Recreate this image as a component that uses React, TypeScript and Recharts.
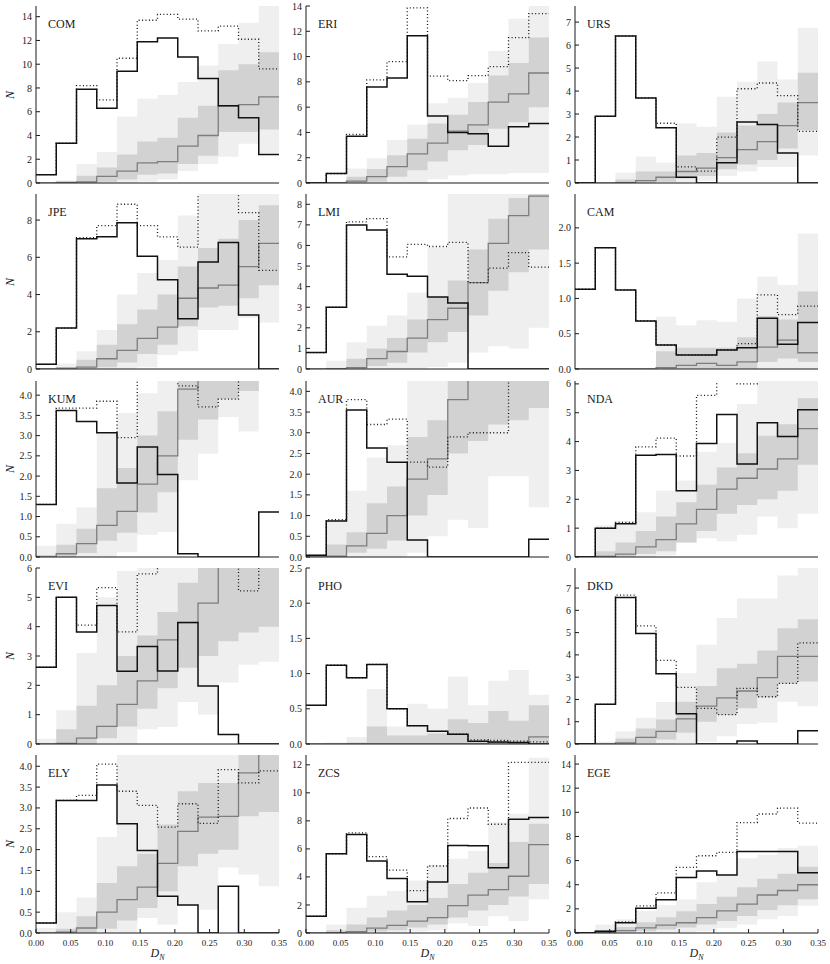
import React from "react";
import { ComposedChart, Area, Line, XAxis, YAxis } from "recharts";

// 12 histogram bins between D_N = 0 and 0.35
const NBINS = 12;
const X_MAX = 0.35;
const xTicks = [0, 0.05, 0.1, 0.15, 0.2, 0.25, 0.3, 0.35];

const regions = [
  "COM", "ERI", "URS",
  "JPE", "LMI", "CAM",
  "KUM", "AUR", "NDA",
  "EVI", "PHO", "DKD",
  "ELY", "ZCS", "EGE",
];

// observed histogram (solid)
const observed: Record<string, number[]> = {
  COM: [0.7, 3.35, 7.9, 6.3, 9.4, 11.9, 12.2, 10.6, 8.8, 6.5, 5.5, 2.4],
  ERI: [0, 0.75, 3.7, 7.6, 8.3, 11.65, 5.3, 4.0, 3.9, 2.9, 4.45, 4.7],
  URS: [0, 2.9, 6.4, 3.7, 2.4, 0.25, 0, 0.88, 2.65, 2.55, 1.3, 0],
  JPE: [0.25, 2.2, 7.0, 7.1, 7.85, 6.05, 4.8, 2.7, 5.75, 6.8, 2.9, 0],
  LMI: [0.8, 3.0, 7.0, 6.75, 4.6, 4.5, 3.5, 3.2, 0, 0, 0, 0],
  CAM: [1.13, 1.72, 1.12, 0.68, 0.34, 0.2, 0.2, 0.27, 0.3, 0.72, 0.35, 0.66],
  KUM: [1.3, 3.62, 3.35, 3.07, 1.83, 2.72, 2.04, 0.08, 0, 0, 0, 1.11],
  AUR: [0.04, 0.87, 3.55, 2.63, 2.29, 0.41, 0, 0, 0, 0, 0, 0.43],
  NDA: [0, 1.0, 1.15, 3.53, 3.55, 2.3, 3.93, 4.94, 3.22, 4.65, 4.18, 5.1],
  EVI: [2.62, 5.0, 3.82, 4.72, 2.48, 3.32, 2.49, 4.14, 1.98, 0.32, 0, 0],
  PHO: [0.55, 1.12, 0.94, 1.13, 0.5, 0.26, 0.18, 0.14, 0.04, 0.03, 0.02, 0],
  DKD: [0, 1.78, 6.58, 4.96, 3.15, 1.36, 0, 0, 0.14, 0, 0, 0.6],
  ELY: [0.24, 3.18, 3.18, 3.55, 2.62, 1.98, 0.88, 0.67, 0, 1.12, 0, 0],
  ZCS: [1.2, 5.65, 7.03, 5.14, 3.88, 2.23, 3.64, 6.25, 6.23, 4.65, 8.12, 8.24],
  EGE: [0, 0.14, 0.85, 2.05, 2.76, 4.6, 5.13, 4.8, 6.76, 6.76, 6.76, 5.0],
};

// dotted histogram
const dotted: Record<string, number[]> = {
  COM: [0.7, 3.35, 8.2, 7.0, 10.5, 13.7, 14.2, 13.8, 12.8, 13.2, 12.1, 9.6],
  ERI: [0, 0.75, 3.85, 8.15, 9.6, 13.85, 8.45, 8.1, 8.5, 9.2, 11.5, 13.4],
  URS: [0, 2.9, 6.4, 3.7, 2.6, 0.7, 0.52, 2.0, 4.1, 4.35, 3.8, 2.25],
  JPE: [0.25, 2.2, 7.05, 7.7, 8.85, 7.7, 7.1, 6.55, 9.9, 10.2, 8.4, 5.3],
  LMI: [0.8, 3.0, 7.15, 7.3, 5.45, 6.05, 5.95, 6.15, 4.2, 4.9, 5.65, 4.95],
  CAM: [1.13, 1.72, 1.12, 0.68, 0.34, 0.2, 0.2, 0.27, 0.36, 1.05, 0.77, 0.89],
  KUM: [1.3, 3.68, 3.68, 3.85, 2.95, 4.6, 4.5, 4.23, 3.71, 3.9, 4.5, 4.5],
  AUR: [0.04, 0.9, 3.8, 3.2, 3.33, 2.29, 2.17, 2.9, 3.0, 3.0, 4.4, 4.4],
  NDA: [0, 1.0, 1.2, 3.82, 4.12, 3.5, 5.6, 6.3, 6.0, 6.6, 6.8, 7.0],
  EVI: [2.62, 5.0, 4.05, 5.33, 3.82, 5.8, 6.3, 6.4, 6.4, 6.5, 5.22, 6.5],
  PHO: [0.55, 1.12, 0.94, 1.13, 0.5, 0.26, 0.18, 0.14, 0.06, 0.05, 0.04, 0.03],
  DKD: [0, 1.78, 6.68, 5.3, 3.75, 2.54, 1.6, 1.32, 2.5, 2.12, 2.72, 4.54],
  ELY: [0.24, 3.18, 3.3, 4.05, 3.4, 3.06, 2.54, 3.1, 2.63, 3.92, 3.6, 3.89],
  ZCS: [1.2, 5.65, 7.15, 5.45, 4.48, 3.03, 4.78, 8.17, 8.92, 7.76, 12.17, 12.17],
  EGE: [0, 0.14, 0.93, 2.25, 3.32, 5.44, 6.4, 6.68, 9.15, 9.86, 10.34, 9.1],
};

// simulated median (gray line)
const median: Record<string, number[]> = {
  COM: [0, 0.05, 0.1, 0.55, 1.0, 1.7, 1.8, 3.1, 4.0, 6.5, 6.6, 7.25],
  ERI: [0, 0.02, 0.15, 0.5, 1.3, 2.3, 3.15, 4.1, 4.6, 6.4, 7.05, 8.7],
  URS: [0, 0, 0.02, 0.1, 0.25, 0.5, 0.65, 1.1, 1.45, 1.8, 2.5, 3.5],
  JPE: [0, 0.05, 0.1, 0.55, 1.0, 1.65, 2.25, 3.8, 4.35, 4.5, 5.5, 6.75],
  LMI: [0, 0.02, 0.07, 0.5, 0.85, 1.5, 2.4, 2.95, 4.2, 6.1, 7.45, 8.4],
  CAM: [0, 0, 0, 0, 0.02, 0.05, 0.08, 0.05, 0.1, 0.31, 0.41, 0.23],
  KUM: [0, 0.08, 0.33, 0.78, 1.13, 1.8, 2.5, 4.15, 4.4, 4.5, 4.6, 4.7],
  AUR: [0, 0.02, 0.27, 0.57, 1.0, 1.88, 2.37, 3.8, 4.3, 4.4, 4.5, 4.6],
  NDA: [0, 0.02, 0.1, 0.35, 0.6, 1.15, 1.65, 2.35, 2.73, 3.05, 3.4, 4.45],
  EVI: [0, 0.02, 0.2, 0.6, 1.35, 2.15, 3.55, 4.14, 4.8, 6.2, 6.5, 6.8],
  PHO: [0, 0, 0, 0, 0, 0, 0, 0, 0, 0.02, 0.02, 0.1],
  DKD: [0, 0, 0.05, 0.3, 0.57, 1.13, 1.7, 2.07, 2.38, 2.98, 3.93, 3.93],
  ELY: [0, 0.02, 0.12, 0.5, 0.8, 1.1, 1.67, 2.44, 2.78, 2.8, 3.84, 4.3],
  ZCS: [0, 0.02, 0.1, 0.35, 0.55, 0.85, 1.1, 1.95, 2.7, 3.1, 4.05, 6.3],
  EGE: [0, 0.05, 0.2, 0.42, 0.65, 0.85, 1.27, 1.83, 2.4, 3.15, 3.52, 4.0],
};

// outer (light) band
const outerLo: Record<string, number[]> = {
  COM: [0, 0, 0, 0, 0, 0.1, 0.3, 1.0, 1.6, 2.2, 3.3, 2.5],
  ERI: [0, 0, 0, 0, 0, 0, 0.3, 0.6, 0.7, 0.7, 0.8, 0.8],
  URS: [0, 0, 0, 0, 0, 0, 0.1, 0.3, 0.5, 0.7, 0.7, 1.2],
  JPE: [0, 0, 0, 0, 0, 0.1, 0.75, 0.95, 2.1, 2.1, 2.75, 2.5],
  LMI: [0, 0, 0, 0, 0, 0, 0.1, 0.3, 0.8, 1.1, 1.0, 2.0],
  CAM: [0, 0, 0, 0, 0, 0, 0, 0, 0, 0, 0, 0],
  KUM: [0, 0, 0, 0, 0.12, 0.55, 0.62, 1.9, 2.55, 3.46, 3.1, 4.5],
  AUR: [0, 0, 0, 0, 0, 0.1, 0.5, 0.9, 0.7, 1.95, 1.95, 1.2],
  NDA: [0, 0, 0, 0, 0.05, 0.5, 0.65, 0.55, 0.77, 1.4, 1.0, 1.5],
  EVI: [0, 0, 0, 0, 0, 0.5, 0.58, 1.43, 1.0, 2.1, 2.7, 2.8],
  PHO: [0, 0, 0, 0, 0, 0, 0, 0, 0, 0, 0, 0],
  DKD: [0, 0, 0, 0, 0, 0.05, 0.1, 0.35, 0.9, 0.95, 1.9, 1.7],
  ELY: [0, 0, 0, 0, 0, 0.36, 0.2, 0.68, 0.56, 1.57, 1.4, 1.12],
  ZCS: [0, 0, 0, 0, 0, 0.1, 0.2, 0.7, 0.5, 1.2, 0.85, 2.4],
  EGE: [0, 0, 0, 0, 0, 0.05, 0.15, 0.42, 0.7, 1.13, 1.4, 2.25],
};
const outerHi: Record<string, number[]> = {
  COM: [0, 0.2, 1.6, 2.6, 5.6, 7.1, 7.4, 8.5, 9.9, 11.7, 13.5, 14.9],
  ERI: [0, 0.1, 1.15, 1.95, 3.4, 4.6, 6.3, 6.75, 7.9, 10.45, 13.0, 14],
  URS: [0, 0, 0.45, 1.15, 0.88, 2.6, 2.45, 3.75, 4.4, 5.3, 4.5, 6.75],
  JPE: [0.05, 0.3, 0.95, 2.1, 4.0, 5.15, 5.85, 8.25, 9.4, 9.4, 9.4, 9.4],
  LMI: [0, 0.4, 1.3, 2.1, 2.6, 3.7, 5.9, 8.5, 8.5, 8.5, 8.5, 8.5],
  CAM: [0, 0, 0, 0, 0.74, 0.62, 0.69, 0.67, 1.0, 1.31, 1.19, 1.92],
  KUM: [0.28, 0.82, 1.23, 3.05, 3.56, 4.05, 4.35, 4.35, 4.35, 4.35, 4.35, 5.5],
  AUR: [0, 0.9, 1.6, 2.4, 2.7, 4.25, 4.25, 4.25, 4.25, 4.25, 4.25, 4.25],
  NDA: [0, 1.1, 1.25, 1.55, 2.3, 2.65, 3.65, 3.95, 5.3, 6.1, 6.1, 6.1],
  EVI: [0.18, 1.15, 3.1, 5.0, 5.9, 6, 6, 6, 6, 6, 6, 6],
  PHO: [0, 0.02, 0.1, 0.78, 0.25, 0.57, 0.5, 0.96, 0.55, 0.9, 1.05, 0.7],
  DKD: [0, 0.1, 0.57, 1.18, 1.89, 3.18, 4.46, 5.66, 6.53, 6.53, 7.56, 7.9],
  ELY: [0.12, 0.5, 0.85, 2.3, 4.27, 4.27, 4.27, 4.27, 4.27, 4.27, 4.27, 4.27],
  ZCS: [0, 0.6, 1.8, 2.65, 3.0, 3.75, 4.85, 5.3, 5.85, 7.9, 8.5, 12.5],
  EGE: [0.1, 0.7, 1.13, 1.83, 2.3, 2.8, 4.2, 4.9, 6.2, 6.48, 7.05, 7.24],
};

// inner (darker) band
const innerLo: Record<string, number[]> = {
  COM: [0, 0, 0, 0.1, 0.3, 0.7, 0.8, 1.6, 2.3, 4.3, 4.3, 4.5],
  ERI: [0, 0, 0, 0.1, 0.5, 1.0, 1.7, 2.6, 3.0, 4.3, 4.8, 6.0],
  URS: [0, 0, 0, 0, 0.05, 0.2, 0.3, 0.6, 0.8, 1.0, 1.5, 2.3],
  JPE: [0, 0, 0, 0.1, 0.35, 0.8, 1.3, 2.3, 3.3, 3.4, 3.8, 4.5],
  LMI: [0, 0, 0, 0.15, 0.3, 0.8, 1.3, 1.8, 2.6, 3.8, 4.7, 5.8],
  CAM: [0, 0, 0, 0, 0, 0, 0, 0, 0, 0.1, 0.15, 0.1],
  KUM: [0, 0, 0.1, 0.4, 0.6, 1.1, 1.6, 2.9, 3.4, 3.9, 4.1, 4.6],
  AUR: [0, 0, 0.1, 0.2, 0.4, 1.0, 1.5, 2.5, 2.8, 3.2, 3.3, 3.6],
  NDA: [0, 0, 0, 0.1, 0.2, 0.5, 0.9, 1.5, 1.8, 2.0, 2.3, 3.2],
  EVI: [0, 0, 0, 0.2, 0.6, 1.2, 1.9, 2.6, 3.0, 3.5, 3.8, 4.0],
  PHO: [0, 0, 0, 0, 0, 0, 0, 0, 0, 0, 0, 0],
  DKD: [0, 0, 0, 0.05, 0.2, 0.5, 1.0, 1.3, 1.6, 2.1, 2.7, 2.8],
  ELY: [0, 0, 0, 0.1, 0.3, 0.6, 1.0, 1.6, 1.9, 2.0, 2.8, 2.9],
  ZCS: [0, 0, 0, 0.1, 0.2, 0.4, 0.6, 1.1, 1.6, 2.0, 2.6, 3.5],
  EGE: [0, 0, 0.05, 0.15, 0.3, 0.45, 0.7, 1.0, 1.4, 1.9, 2.3, 2.8],
};
const innerHi: Record<string, number[]> = {
  COM: [0, 0.1, 0.6, 1.3, 2.4, 3.5, 3.8, 5.5, 6.5, 9.5, 10, 11],
  ERI: [0, 0.05, 0.5, 1.1, 2.2, 3.5, 4.7, 5.4, 6.4, 8.5, 9.5, 11.5],
  URS: [0, 0, 0.15, 0.5, 0.5, 1.2, 1.3, 2.2, 2.5, 3.0, 3.5, 4.8],
  JPE: [0, 0.05, 0.5, 1.3, 2.4, 3.2, 4.0, 5.5, 6.5, 7.0, 8.0, 8.8],
  LMI: [0, 0.05, 0.5, 1.0, 1.5, 2.4, 3.5, 4.3, 5.8, 7.3, 8.3, 8.5],
  CAM: [0, 0, 0, 0, 0.25, 0.3, 0.3, 0.3, 0.45, 0.75, 0.7, 1.1],
  KUM: [0.05, 0.3, 0.7, 1.7, 2.2, 3.0, 3.6, 4.35, 4.35, 4.35, 4.35, 5.5],
  AUR: [0, 0.3, 0.6, 1.3, 1.7, 2.9, 3.3, 4.25, 4.25, 4.25, 4.25, 4.25],
  NDA: [0, 0.2, 0.5, 0.9, 1.4, 1.9, 2.5, 3.1, 3.6, 4.2, 4.6, 5.5],
  EVI: [0, 0.5, 1.3, 2.0, 3.0, 3.7, 4.5, 5.5, 6, 6, 6, 6],
  PHO: [0, 0, 0.02, 0.25, 0.12, 0.12, 0.15, 0.35, 0.3, 0.47, 0.33, 0.55],
  DKD: [0, 0.03, 0.25, 0.7, 1.1, 1.9, 2.6, 3.4, 3.6, 4.2, 5.2, 5.6],
  ELY: [0, 0.1, 0.4, 1.2, 1.6, 1.9, 2.6, 3.4, 3.6, 3.6, 4.27, 4.27],
  ZCS: [0, 0.2, 0.6, 1.1, 1.6, 2.0, 2.5, 3.5, 4.3, 5.0, 6.5, 7.8],
  EGE: [0, 0.2, 0.5, 0.9, 1.3, 1.8, 2.4, 3.0, 3.8, 4.5, 4.9, 5.5],
};

const yMax: Record<string, number> = {
  COM: 14.9, ERI: 14, URS: 7.7, JPE: 9.4, LMI: 8.5, CAM: 2.48, KUM: 4.35, AUR: 4.25,
  NDA: 6.1, EVI: 6, PHO: 2.5, DKD: 7.9, ELY: 4.27, ZCS: 12.7, EGE: 14.75,
};

const halves = [0, 0.5, 1, 1.5, 2, 2.5, 3, 3.5, 4];
const yTicks: Record<string, number[]> = {
  COM: [0, 2, 4, 6, 8, 10, 12, 14],
  ERI: [0, 2, 4, 6, 8, 10, 12, 14],
  URS: [0, 1, 2, 3, 4, 5, 6, 7],
  JPE: [0, 2, 4, 6, 8],
  LMI: [0, 1, 2, 3, 4, 5, 6, 7, 8],
  CAM: [0, 0.5, 1, 1.5, 2],
  KUM: halves,
  AUR: halves,
  NDA: [0, 1, 2, 3, 4, 5, 6],
  EVI: [0, 1, 2, 3, 4, 5, 6],
  PHO: [0, 0.5, 1, 1.5, 2, 2.5],
  DKD: [0, 1, 2, 3, 4, 5, 6, 7],
  ELY: halves,
  ZCS: [0, 2, 4, 6, 8, 10, 12],
  EGE: [0, 2, 4, 6, 8, 10, 12, 14],
};

const colLeft = [36, 306, 575];
const rowTop = [6, 194, 381, 568, 755];
const rowH = [177, 175, 176, 176, 178];
const PLOT_W = 243;
const Y_W = 36;
const X_H = 24;
const TOP_PAD = 8;
const RIGHT_PAD = 12;

const FONT = '"Liberation Serif", "DejaVu Serif", serif';
const INK = "#1a1a1a";

function Panel({ name, idx }: { name: string; idx: number }) {
  const row = Math.floor(idx / 3);
  const col = idx % 3;
  const bottom = row === 4;
  const h = rowH[row];
  const ticks = yTicks[name];
  const half = ticks.some((t) => t % 1 !== 0);

  const data = Array.from({ length: NBINS + 1 }, (_, i) => {
    const j = Math.min(i, NBINS - 1);
    return {
      x: (i * X_MAX) / NBINS,
      outer: [outerLo[name][j], outerHi[name][j]],
      inner: [innerLo[name][j], innerHi[name][j]],
      med: median[name][j],
      dot: dotted[name][j],
      obs: observed[name][j],
    };
  });

  const yTickStyle = { fontSize: 10, fill: INK, fontFamily: FONT };
  const xTickStyle = { fontSize: 9, fill: INK, fontFamily: FONT };

  return (
    <div
      style={{
        position: "absolute",
        left: colLeft[col] - Y_W,
        top: rowTop[row] - TOP_PAD,
      }}
    >
      <ComposedChart
        width={Y_W + PLOT_W + RIGHT_PAD}
        height={h + TOP_PAD + X_H}
        data={data}
        margin={{ top: TOP_PAD, right: RIGHT_PAD, bottom: 0, left: 0 }}
      >
        <XAxis
          dataKey="x"
          type="number"
          domain={[0, X_MAX]}
          ticks={xTicks}
          interval={0}
          height={X_H}
          tickSize={-4}
          tickMargin={11}
          tick={bottom ? xTickStyle : false}
          tickFormatter={(v: number) => v.toFixed(2)}
          axisLine={{ stroke: INK }}
          tickLine={{ stroke: INK }}
        />
        <XAxis
          xAxisId="top"
          orientation="top"
          dataKey="x"
          type="number"
          domain={[0, X_MAX]}
          ticks={xTicks}
          interval={0}
          height={0}
          tickSize={-4}
          tick={false}
          axisLine={{ stroke: INK }}
          tickLine={{ stroke: INK }}
        />
        <YAxis
          type="number"
          domain={[0, yMax[name]]}
          allowDataOverflow
          ticks={ticks}
          interval={0}
          width={Y_W}
          tickSize={-4}
          tickMargin={8}
          tick={yTickStyle}
          tickFormatter={(v: number) => (half ? v.toFixed(1) : String(v))}
          axisLine={{ stroke: INK }}
          tickLine={{ stroke: INK }}
        />
        <YAxis
          yAxisId="right"
          orientation="right"
          type="number"
          domain={[0, yMax[name]]}
          allowDataOverflow
          ticks={ticks}
          interval={0}
          width={0}
          tickSize={-4}
          tick={false}
          axisLine={{ stroke: INK }}
          tickLine={{ stroke: INK }}
        />
        <Area
          dataKey="outer"
          type="stepAfter"
          stroke="none"
          fill="#efefef"
          fillOpacity={1}
          dot={false}
          activeDot={false}
          isAnimationActive={false}
        />
        <Area
          dataKey="inner"
          type="stepAfter"
          stroke="none"
          fill="#d2d2d2"
          fillOpacity={1}
          dot={false}
          activeDot={false}
          isAnimationActive={false}
        />
        <Line
          dataKey="med"
          type="stepAfter"
          stroke="#7d7d7d"
          strokeWidth={1.3}
          dot={false}
          activeDot={false}
          isAnimationActive={false}
        />
        <Line
          dataKey="dot"
          type="stepAfter"
          stroke="#111"
          strokeWidth={1.3}
          strokeDasharray="1 2.4"
          dot={false}
          activeDot={false}
          isAnimationActive={false}
        />
        <Line
          dataKey="obs"
          type="stepAfter"
          stroke="#111"
          strokeWidth={1.5}
          dot={false}
          activeDot={false}
          isAnimationActive={false}
        />
      </ComposedChart>
      <div
        style={{
          position: "absolute",
          left: Y_W + 12,
          top: TOP_PAD + 12,
          fontFamily: FONT,
          fontSize: 12,
          color: INK,
          lineHeight: "12px",
        }}
      >
        {name}
      </div>
    </div>
  );
}

export default function App() {
  return (
    <div
      style={{
        position: "absolute",
        left: 0,
        top: 0,
        width: 830,
        height: 964,
        background: "#fff",
        fontFamily: FONT,
      }}
    >
      {regions.map((r, i) => (
        <Panel key={r} name={r} idx={i} />
      ))}
      {rowTop.map((t, row) => (
        <div
          key={"n" + row}
          style={{
            position: "absolute",
            left: 6,
            top: t + rowH[row] / 2 - 7,
            fontSize: 12,
            fontStyle: "italic",
            color: INK,
            transform: "rotate(-90deg)",
            lineHeight: "14px",
          }}
        >
          N
        </div>
      ))}
      {colLeft.map((l, col) => (
        <div
          key={"d" + col}
          style={{
            position: "absolute",
            left: l + PLOT_W / 2 - 12,
            top: 946,
            width: 24,
            textAlign: "center",
            fontSize: 12,
            fontStyle: "italic",
            color: INK,
            lineHeight: "14px",
          }}
        >
          D<sub style={{ fontSize: 8 }}>N</sub>
        </div>
      ))}
    </div>
  );
}
